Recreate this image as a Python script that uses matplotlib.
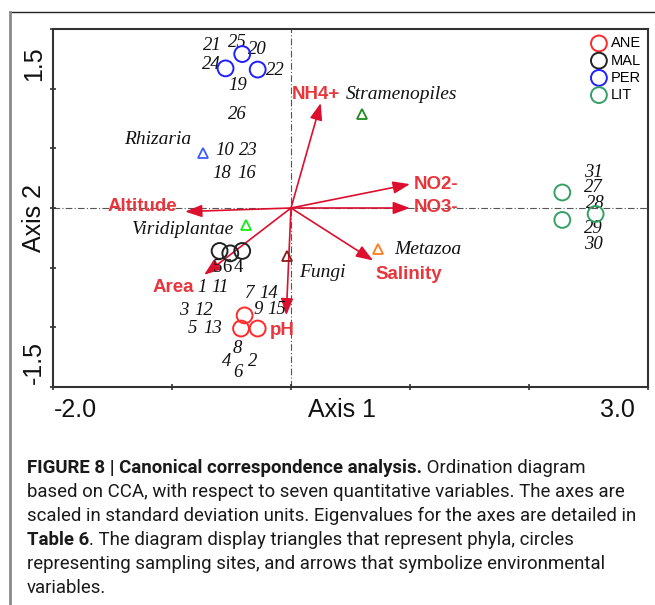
import matplotlib
matplotlib.use('Agg')
import matplotlib.pyplot as plt
from matplotlib.lines import Line2D

# sampling sites (circles), one array pair per group
ane_x = [-0.39, -0.42, -0.28]
ane_y = [-0.90, -1.01, -1.01]
mal_x = [-0.60, -0.51, -0.41]
mal_y = [-0.36, -0.38, -0.36]
per_x = [-0.41, -0.55, -0.28]
per_y = [1.29, 1.17, 1.16]
lit_x = [2.28, 2.28, 2.56]
lit_y = [0.13, -0.10, -0.05]

groups = ['ANE', 'MAL', 'PER', 'LIT']
group_colors = ['#ff2a2a', '#222222', '#1f1fff', '#35a064']

# site numbers
site_labels = ['21', '25', '20', '24', '22', '19', '26', '10', '23', '18', '16',
               '31', '27', '28', '29', '30',
               '1', '11', '7', '14', '3', '12', '9', '15', '5', '13',
               '8', '4', '2', '6']
site_lab_x = [-0.66, -0.45, -0.28, -0.67, -0.13, -0.45, -0.45, -0.56, -0.36, -0.58, -0.37,
              2.54, 2.54, 2.56, 2.54, 2.54,
              -0.75, -0.60, -0.35, -0.19, -0.90, -0.73, -0.28, -0.12, -0.83, -0.66,
              -0.45, -0.54, -0.32, -0.45]
site_lab_y = [1.36, 1.39, 1.33, 1.20, 1.15, 1.03, 0.78, 0.48, 0.48, 0.29, 0.29,
              0.30, 0.17, 0.04, -0.17, -0.31,
              -0.67, -0.67, -0.72, -0.72, -0.86, -0.86, -0.85, -0.85, -1.01, -1.01,
              -1.18, -1.29, -1.29, -1.38]
# the MAL numbers are written upright
mal_labels = ['5', '6', '4']
mal_lab_x = [-0.62, -0.54, -0.44]
mal_lab_y = [-0.50, -0.50, -0.50]

# phyla (triangles)
phyla = ['Rhizaria', 'Stramenopiles', 'Viridiplantae', 'Metazoa', 'Fungi']
phyla_x = [-0.74, 0.60, -0.38, 0.73, -0.03]
phyla_y = [0.46, 0.79, -0.14, -0.34, -0.40]
phyla_lab_x = [-1.12, 0.93, -0.91, 1.15, 0.26]
phyla_lab_y = [0.57, 0.95, -0.18, -0.35, -0.54]
phyla_colors = ['#3b5bff', '#1f8a1f', '#11ee11', '#ff7a1a', '#8b1a1a']

# environmental variables (arrows)
env_vars = ['NH4+', 'NO2-', 'NO3-', 'Salinity', 'pH', 'Area', 'Altitude']
env_x = [0.25, 1.00, 1.00, 0.69, -0.04, -0.73, -0.89]
env_y = [0.88, 0.20, 0.00, -0.44, -0.90, -0.56, -0.03]
env_lab_x = [0.21, 1.22, 1.22, 0.99, -0.07, -0.99, -1.25]
env_lab_y = [0.95, 0.20, 0.00, -0.56, -1.03, -0.67, 0.01]

arrow_color = '#dc0f2e'
label_red = '#e8363c'
serif = 'Liberation Serif'
sans = 'Liberation Sans'

fig = plt.figure(figsize=(6.55, 6.05), dpi=100)
ax = fig.add_axes([53 / 655, 1 - 387 / 605, 595 / 655, 358 / 605])
ax.set_xlim(-2.0, 3.0)
ax.set_ylim(-1.5, 1.5)

# dash-dot zero lines
ax.axhline(0, color='#555555', lw=0.8, ls=(0, (6, 2, 1, 2)), zorder=1)
ax.axvline(0, color='#555555', lw=0.8, ls=(0, (6, 2, 1, 2)), zorder=1)

# arrows
for name, x, y, lx, ly in zip(env_vars, env_x, env_y, env_lab_x, env_lab_y):
    ax.annotate('', xy=(x, y), xytext=(0, 0),
                arrowprops=dict(arrowstyle='-|>,head_length=0.6,head_width=0.22',
                                color=arrow_color, lw=1.2, mutation_scale=17,
                                shrinkA=0, shrinkB=0), zorder=3)
    ax.text(lx, ly, name, color=label_red, fontsize=13.5, fontweight='bold',
            family=sans, ha='center', va='center', zorder=4)

# sites
for xs, ys, name, c in zip([ane_x, mal_x, per_x, lit_x], [ane_y, mal_y, per_y, lit_y],
                           groups, group_colors):
    ax.scatter(xs, ys, s=130, facecolors='none', edgecolors=c, linewidths=1.4,
               label=name, zorder=5)

for t, x, y in zip(site_labels, site_lab_x, site_lab_y):
    ax.text(x, y, t, fontsize=13.5, style='italic', family=serif,
            ha='center', va='center', color='#111111')
for t, x, y in zip(mal_labels, mal_lab_x, mal_lab_y):
    ax.text(x, y, t, fontsize=13.5, family=serif, ha='center', va='center', color='#111111')

# phyla
for name, x, y, lx, ly, c in zip(phyla, phyla_x, phyla_y, phyla_lab_x, phyla_lab_y, phyla_colors):
    ax.plot(x, y, marker='^', ms=7, mfc='none', mec=c, mew=1.3, ls='none', zorder=5)
    ax.text(lx, ly, name, fontsize=14, style='italic', family=serif,
            ha='center', va='center', color='#111111')

leg = ax.legend(loc='upper right', frameon=False, handletextpad=0.3,
                labelspacing=0.22, borderaxespad=0.1, handlelength=1.0,
                prop={'family': sans, 'size': 10.5})

# axes styling
for sp in ax.spines.values():
    sp.set_color('#333333')
    sp.set_linewidth(1.5)
ax.set_xticks([-2, -1, 0, 1, 2, 3])
ax.set_yticks([-1.5, -1.0, -0.5, 0, 0.5, 1.0, 1.5])
ax.tick_params(direction='inout', length=5, width=1.2, color='#333333',
               labelbottom=False, labelleft=False)

# axis texts as in the original layout
tick_kw = dict(fontsize=18, family=sans, color='#111111', transform=ax.transAxes)
ax.text((75 - 53) / 595, -23 / 358, '-2.0', ha='center', va='center', **tick_kw)
ax.text((617 - 53) / 595, -23 / 358, '3.0', ha='center', va='center', **tick_kw)
ax.text((342 - 53) / 595, -23 / 358, 'Axis 1', ha='center', va='center', **tick_kw)
ax.text(-19 / 595, (387 - 64) / 358, '1.5', ha='center', va='center', rotation=90, **tick_kw)
ax.text(-19 / 595, (387 - 362) / 358, '-1.5', ha='center', va='center', rotation=90, **tick_kw)
ax.text(-19 / 595, (387 - 218) / 358, 'Axis 2', ha='center', va='center', rotation=90, **tick_kw)

# page frame
fig.add_artist(Line2D([10 / 655, 1], [1 - 12 / 605, 1 - 12 / 605], color='#222222', lw=1.0))
fig.add_artist(Line2D([10 / 655, 10 / 655], [0, 1 - 12 / 605], color='#8a8a8a', lw=2.0))

# caption
cap_font = 'Roboto'
cap_size = 13.4
x0 = 27 / 655
y0 = 1 - 473 / 605
dy = 24 / 605
cap_color = '#1a1a1a'

t1 = fig.text(x0, y0, 'FIGURE 8 | Canonical correspondence analysis.', family=cap_font,
              fontsize=cap_size, fontweight='bold', color=cap_color, va='baseline')
ax.annotate(' Ordination diagram', xy=(1, 0), xycoords=t1, va='bottom', ha='left',
            family=cap_font, fontsize=cap_size, color=cap_color, annotation_clip=False)
fig.text(x0, y0 - dy, 'based on CCA, with respect to seven quantitative variables. The axes are',
         family=cap_font, fontsize=cap_size, color=cap_color, va='baseline')
fig.text(x0, y0 - 2 * dy, 'scaled in standard deviation units. Eigenvalues for the axes are detailed in',
         family=cap_font, fontsize=cap_size, color=cap_color, va='baseline')
t4 = fig.text(x0, y0 - 3 * dy, 'Table 6', family=cap_font, fontsize=cap_size,
              fontweight='bold', color=cap_color, va='baseline')
ax.annotate('. The diagram display triangles that represent phyla, circles', xy=(1, 0),
            xycoords=t4, va='bottom', ha='left', family=cap_font, fontsize=cap_size,
            color=cap_color, annotation_clip=False)
fig.text(x0, y0 - 4 * dy, 'representing sampling sites, and arrows that symbolize environmental',
         family=cap_font, fontsize=cap_size, color=cap_color, va='baseline')
fig.text(x0, y0 - 5 * dy, 'variables.', family=cap_font, fontsize=cap_size,
         color=cap_color, va='baseline')

fig.savefig('out.png', dpi=100)
